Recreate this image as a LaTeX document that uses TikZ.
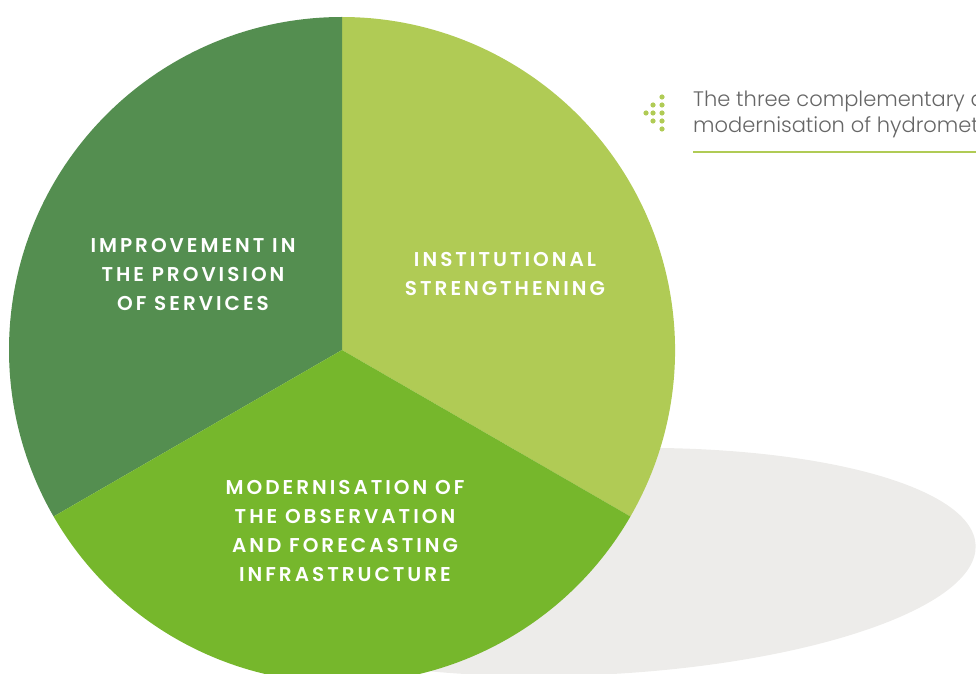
\documentclass[tikz,border=0pt]{standalone}
\usepackage{fontspec}
\IfFontExistsTF{Poppins SemiBold}
  {\newfontfamily\labelfont[LetterSpace=15]{Poppins SemiBold}}
  {\newfontfamily\labelfontraw[LetterSpace=15]{Poppins}\def\labelfont{\labelfontraw\bfseries}}
\IfFontExistsTF{Poppins Light}
  {\newfontfamily\captfont{Poppins Light}}
  {\newfontfamily\captfont{Poppins}}
\definecolor{darkgreen}{HTML}{548E50}
\definecolor{lightgreen}{HTML}{B0CB55}
\definecolor{midgreen}{HTML}{76B72C}
\definecolor{shadowgray}{HTML}{EDECEA}
\definecolor{captgray}{HTML}{666666}
\tikzset{
  lbl/.style={text=white, font=\labelfont\fontsize{20}{29}\selectfont, align=center, inner sep=0pt},
  capt/.style={text=captgray, font=\captfont\fontsize{21}{26}\selectfont, anchor=base west, inner sep=0pt},
  icondot/.style={fill=lightgreen},
}
\begin{document}
\begin{tikzpicture}[x=1pt,y=1pt]
\useasboundingbox (0,0) rectangle (976,673);
\clip (0,0) rectangle (976,673);
% shadow
\fill[shadowgray, rotate around={2.5:(590,111)}] (590,111) ellipse [x radius=386, y radius=113];
% sectors
\coordinate (c) at (342,323);
\fill[lightgreen] (c) -- ++(330:333) arc[start angle=330, end angle=450, radius=333] -- cycle;
\fill[darkgreen] (c) -- ++(90:333) arc[start angle=90, end angle=210, radius=333] -- cycle;
\fill[midgreen] (c) -- ++(210:333) arc[start angle=210, end angle=330, radius=333] -- cycle;
% labels
\node[lbl] (services) at (193,399) {IMPROVEMENT IN\\THE PROVISION\\OF SERVICES};
\node[lbl] (institutional) at (505,399) {INSTITUTIONAL\\STRENGTHENING};
\node[lbl] (infrastructure) at (345,142) {MODERNISATION OF\\THE OBSERVATION\\AND FORECASTING\\INFRASTRUCTURE};
% caption
\foreach \x/\y [count=\i] in {662/576,653/568,662/568,646/560,653/560,662/560,653/552,662/552,662/544}
  \fill[icondot] (\x,\y) circle[radius=2.6];
\node[capt] (capt1) at (693,566) {The three complementary areas};
\node[capt] (capt2) at (693,540) {modernisation of hydrometeorological};
\coordinate (ulstart) at (693,521);
\coordinate (ulend) at (976,521);
\draw[lightgreen, line width=1.5pt] (ulstart) -- (ulend);
\end{tikzpicture}
\end{document}
